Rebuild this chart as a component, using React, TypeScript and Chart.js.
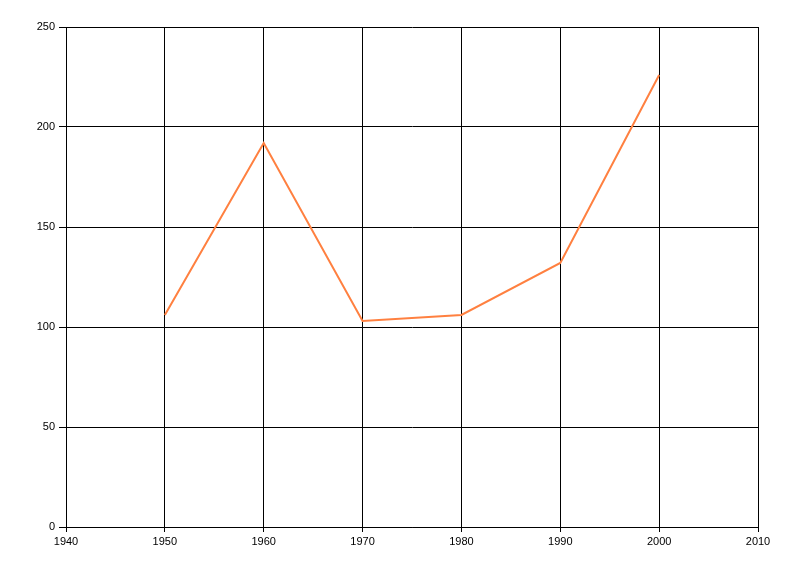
import React, { useEffect, useRef } from "react";
import { Chart, registerables } from "chart.js";

Chart.register(...registerables);

const years = [1950, 1960, 1970, 1980, 1990, 2000];
const values = [106, 192, 103, 106, 132, 226];
const xMin = 1940;
const xMax = 2010;
const yMin = 0;
const yMax = 250;

export default function App() {
  const ref = useRef<HTMLCanvasElement | null>(null);
  useEffect(() => {
    if (!ref.current) return;
    const chart = new Chart(ref.current, {
      type: "line",
      data: {
        datasets: [
          {
            data: years.map((y, i) => ({ x: y, y: values[i] })),
            borderColor: "rgb(255,128,64)",
            borderWidth: 2,
            pointRadius: 0,
            tension: 0,
            fill: false,
          },
        ],
      },
      options: {
        animation: false,
        responsive: false,
        maintainAspectRatio: false,
        layout: { padding: { left: 0, right: 42, top: 27, bottom: 29 } },
        plugins: { legend: { display: false }, tooltip: { enabled: false } },
        scales: {
          x: {
            type: "linear",
            min: xMin,
            max: xMax,
            afterFit: (s: any) => {
              s.height = 20;
            },
            ticks: {
              stepSize: 10,
              color: "#000",
              padding: 3,
              maxRotation: 0,
              font: { family: "Liberation Sans", size: 11 },
              callback: (v: any) => String(v),
            },
            grid: { color: "#000", lineWidth: 1, tickLength: 5 },
            border: { color: "#000", width: 1 },
          },
          y: {
            min: yMin,
            max: yMax,
            afterFit: (s: any) => {
              s.width = 66;
            },
            ticks: {
              stepSize: 50,
              color: "#000",
              padding: 4,
              font: { family: "Liberation Sans", size: 11 },
            },
            grid: { color: "#000", lineWidth: 1, tickLength: 7 },
            border: { color: "#000", width: 1 },
          },
        },
      },
    });
    return () => chart.destroy();
  }, []);
  return (
    <div style={{ position: "fixed", left: 0, top: 0, width: 800, height: 576, background: "#fff" }}>
      <canvas ref={ref} width={800} height={576} style={{ display: "block" }} />
    </div>
  );
}
